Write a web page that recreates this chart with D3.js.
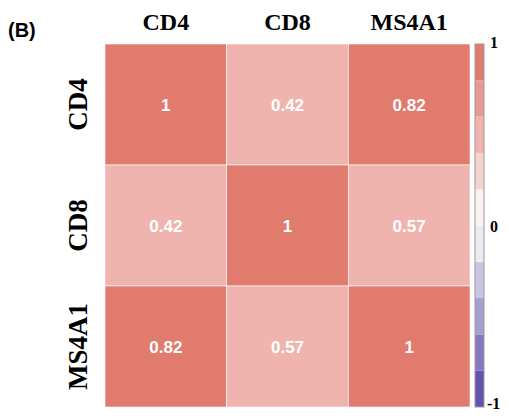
<!DOCTYPE html>
<html><head><meta charset="utf-8">
<script src="https://cdn.jsdelivr.net/npm/d3@7"></script>
<style>html,body{margin:0;padding:0;background:#fff;}</style>
</head><body>
<svg id="c" width="509" height="419"></svg>
<script>
const genes = ["CD4", "CD8", "MS4A1"];
const corr = [
  [1, 0.42, 0.82],
  [0.42, 1, 0.57],
  [0.82, 0.57, 1]
];
const binColors = ["#6254ae","#8479bf","#a59ed0","#c9c5e2","#ecebf4","#fbf1f1","#f6d3cf","#efb4ae","#e89a92","#e07b6e"];
const legendTicks = [1, 0, -1];

const svg = d3.select("#c");
const x = d3.scaleBand().domain(genes).range([105, 470]);
const y = d3.scaleBand().domain(genes).range([44, 407]);
const color = d3.scaleQuantize().domain([-1, 1]).range(binColors);

const cells = [];
corr.forEach((row, i) => row.forEach((v, j) => cells.push({r: genes[i], c: genes[j], v})));

svg.append("g").selectAll("rect").data(cells).join("rect")
  .attr("x", d => x(d.c)).attr("y", d => y(d.r))
  .attr("width", x.bandwidth()).attr("height", y.bandwidth())
  .attr("fill", d => color(d.v))
  .attr("stroke", "#fff").attr("stroke-width", 0.6);

svg.append("g").selectAll("text").data(cells).join("text")
  .attr("x", d => x(d.c) + x.bandwidth()/2)
  .attr("y", d => y(d.r) + y.bandwidth()/2)
  .attr("dy", "0.36em").attr("text-anchor", "middle")
  .attr("fill", "#fff").attr("font-family", "Liberation Sans, Arial, sans-serif")
  .attr("font-size", 17).attr("font-weight", "bold")
  .text(d => d.v);

// column labels
svg.append("g").selectAll("text").data(genes).join("text")
  .attr("x", d => x(d) + x.bandwidth()/2).attr("y", 30)
  .attr("text-anchor", "middle")
  .attr("font-family", "Liberation Serif, Times New Roman, serif")
  .attr("font-weight", "bold").attr("font-size", 24)
  .text(d => d);

// row labels
svg.append("g").selectAll("text").data(genes).join("text")
  .attr("transform", d => `translate(87,${y(d) + y.bandwidth()/2}) rotate(-90)`)
  .attr("text-anchor", "middle")
  .attr("font-family", "Liberation Serif, Times New Roman, serif")
  .attr("font-weight", "bold").attr("font-size", 27)
  .text(d => d);

// panel label
svg.append("text").attr("x", 8).attr("y", 37)
  .attr("font-family", "Liberation Sans, Arial, sans-serif")
  .attr("font-weight", "bold").attr("font-size", 20).text("(B)");

// color bar
const ly = d3.scaleLinear().domain([1, -1]).range([44, 407]);
const bins = binColors.map((c, i) => ({lo: -1 + i*0.2, hi: -1 + (i+1)*0.2, c}));
const lg = svg.append("g");
lg.selectAll("rect").data(bins).join("rect")
  .attr("x", 475).attr("width", 9)
  .attr("y", d => ly(d.hi)).attr("height", d => ly(d.lo) - ly(d.hi))
  .attr("fill", d => d.c);
lg.append("rect").attr("x", 475).attr("y", ly(1)).attr("width", 9)
  .attr("height", ly(-1) - ly(1)).attr("fill", "none").attr("stroke", "#999").attr("stroke-width", 1);
lg.selectAll("text").data(legendTicks).join("text")
  .attr("x", d => d < 0 ? 487 : 490)
  .attr("y", d => ly(d) + (d === 1 ? 4 : d === -1 ? 2 : 6.5))
  .attr("font-family", "Liberation Serif, Times New Roman, serif")
  .attr("font-weight", "bold").attr("font-size", 16)
  .text(d => d);
</script>
</body></html>
